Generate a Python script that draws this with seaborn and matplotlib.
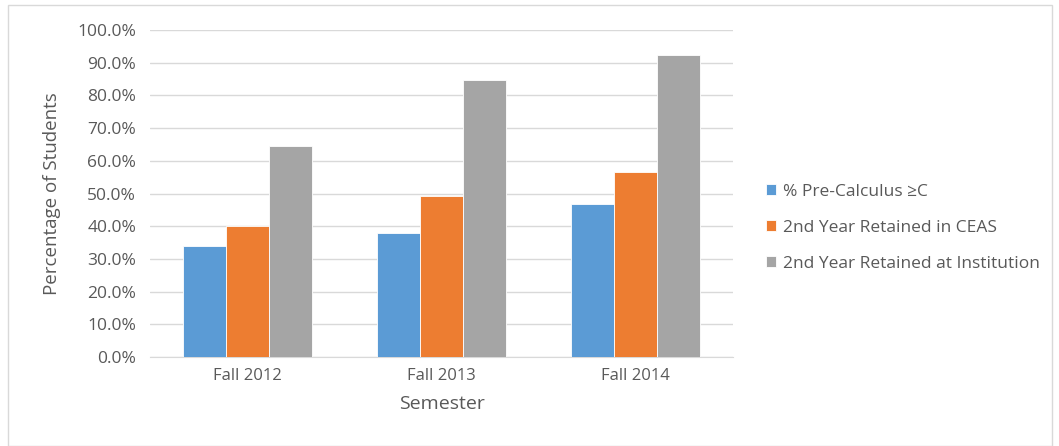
import pandas as pd
import matplotlib
matplotlib.use("Agg")
import matplotlib.pyplot as plt
from matplotlib.ticker import PercentFormatter
from matplotlib.patches import Rectangle
import seaborn as sb

# Data
semesters = ["Fall 2012", "Fall 2013", "Fall 2014"]
series = ["% Pre-Calculus \u2265C", "2nd Year Retained in CEAS",
          "2nd Year Retained at Institution"]
precalc = [33.8, 37.9, 46.8]
ceas = [40.2, 49.3, 56.6]
institution = [64.4, 84.7, 92.3]
colors = ["#5B9BD5", "#ED7D31", "#A5A5A5"]

# Long-form table for seaborn
rows = []
for name, vals in zip(series, [precalc, ceas, institution]):
    for sem, v in zip(semesters, vals):
        rows.append({"Semester": sem, "Series": name, "Value": v})
data = pd.DataFrame(rows)

sb.set_style("white")
plt.rcParams['font.family'] = ['Open Sans', 'DejaVu Sans']
text_col = "#595959"

fig = plt.figure(figsize=(10.59, 4.46), dpi=100)
ax = fig.add_axes([150 / 1059, 1 - 357 / 446, 583 / 1059, 327 / 446])

sb.barplot(data=data, x="Semester", y="Value", hue="Series",
           hue_order=series, palette=colors, saturation=1, width=0.665,
           edgecolor="white", linewidth=0.6, ax=ax, zorder=3)

ax.set_ylim(0, 100)
ax.set_yticks(range(0, 101, 10))
ax.yaxis.set_major_formatter(PercentFormatter(xmax=100, decimals=1))
ax.grid(axis="y", color="#D9D9D9", linewidth=1, zorder=0)
ax.set_axisbelow(True)
for s in ["top", "right", "left"]:
    ax.spines[s].set_visible(False)
ax.spines["bottom"].set_color("#D9D9D9")
ax.tick_params(axis="both", length=0, colors=text_col)
ax.tick_params(axis="y", pad=10, labelsize=12.5)
ax.tick_params(axis="x", pad=8, labelsize=12)
ax.set_xlabel("Semester", fontsize=14, color=text_col, labelpad=8)
ax.set_ylabel("Percentage of Students", fontsize=13.5, color=text_col, labelpad=12)

handles, labels = ax.get_legend_handles_labels()
ax.legend(handles, labels, loc="center left",
          bbox_to_anchor=(750 / 1059, 1 - 228 / 446),
          bbox_transform=fig.transFigure, frameon=False, fontsize=12.5,
          labelcolor=text_col, handlelength=0.6, handleheight=0.6,
          handletextpad=0.4, labelspacing=1.15)

# light border around the chart area
fig.patches.append(Rectangle((8 / 1059, 0), 1044 / 1059, 441 / 446,
                             transform=fig.transFigure, fill=False,
                             edgecolor="#D9D9D9", linewidth=1))

plt.savefig("out.png", dpi=100)
